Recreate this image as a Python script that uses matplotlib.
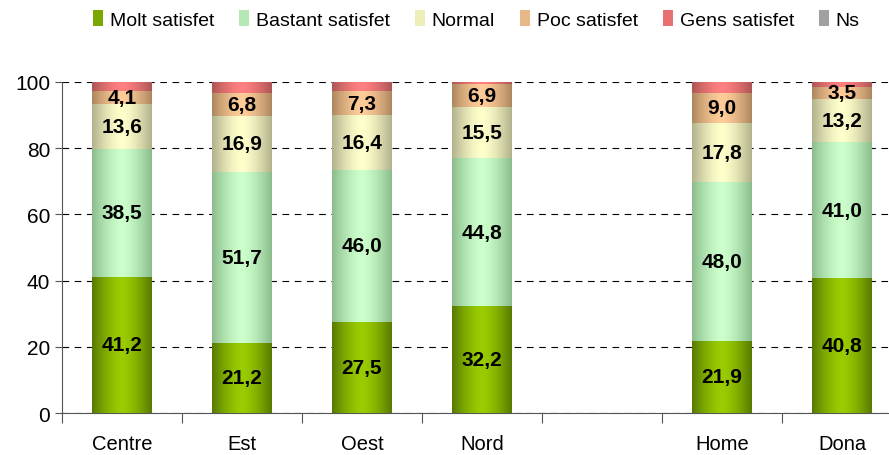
import numpy as np
import matplotlib
matplotlib.use("Agg")
import matplotlib.pyplot as plt
from matplotlib.colors import to_rgb
from matplotlib.patches import Patch

plt.rcParams['font.family'] = ['Liberation Sans', 'DejaVu Sans']

categories = ["Centre", "Est", "Oest", "Nord", "", "Home", "Dona"]
series = ["Molt satisfet", "Bastant satisfet", "Normal", "Poc satisfet", "Gens satisfet", "Ns"]
molt = [41.2, 21.2, 27.5, 32.2, None, 21.9, 40.8]
bastant = [38.5, 51.7, 46.0, 44.8, None, 48.0, 41.0]
normal = [13.6, 16.9, 16.4, 15.5, None, 17.8, 13.2]
poc = [4.1, 6.8, 7.3, 6.9, None, 9.0, 3.5]
gens = [2.6, 3.4, 2.8, 0.6, None, 3.3, 1.5]
ns = [0.0, 0.0, 0.0, 0.0, None, 0.0, 0.0]
values = [molt, bastant, normal, poc, gens, ns]
show_label = [True, True, True, True, False, False]

# colour at bar centre / colour at bar edges
centre_col = ["#9acd00", "#ccffcc", "#ffffcc", "#ffcc99", "#ff8080", "#c0c0c0"]
edge_col = ["#587a00", "#8cbc8c", "#b2b28c", "#ad875f", "#ad5555", "#808080"]
legend_col = ["#7aa800", "#b5e8b5", "#eeeebb", "#e8b888", "#e87070", "#a0a0a0"]


def gradient(c_mid, c_edge, n=64):
    t = np.linspace(-1, 1, n)
    w = np.clip(np.abs(t) ** 1.5, 0, 1)[:, None]
    a = np.array(to_rgb(c_mid))
    b = np.array(to_rgb(c_edge))
    return (a * (1 - w) + b * w)[None, :, :]


fig = plt.figure(figsize=(8.89, 4.56), dpi=100)
ax = fig.add_axes([62 / 889, 1 - 414 / 456, 840 / 889, 331 / 456])

width = 0.5
x = np.arange(len(categories))
for i in range(len(categories)):
    if molt[i] is None:
        continue
    bottom = 0.0
    for s in range(len(series)):
        v = values[s][i]
        if v > 0:
            img = gradient(centre_col[s], edge_col[s])
            ax.imshow(img, extent=(x[i] - width / 2, x[i] + width / 2, bottom, bottom + v),
                      aspect="auto", interpolation="bilinear", zorder=3)
            if show_label[s]:
                ax.text(x[i], bottom + v / 2, f"{v:.1f}".replace(".", ","),
                        ha="center", va="center", fontsize=15, fontweight="bold", zorder=4)
        bottom += v

ax.set_xlim(-0.5, len(categories) - 0.5)
ax.set_ylim(0, 100)
ax.set_yticks([0, 20, 40, 60, 80, 100])
ax.yaxis.grid(True, linestyle=(0, (6, 5)), color="black", linewidth=0.8)
ax.set_axisbelow(True)
ax.set_xticks(np.arange(len(categories) + 1) - 0.5)
ax.set_xticklabels([])
ax.set_xticks(x, minor=True)
ax.set_xticklabels(categories, minor=True, fontsize=14.5)
ax.tick_params(axis="x", which="major", length=7, direction="out", color="#555555")
ax.tick_params(axis="x", which="minor", length=0, pad=15)
ax.tick_params(axis="y", length=5, direction="out", labelsize=15, color="#555555")
for side in ["top", "right"]:
    ax.spines[side].set_visible(False)
ax.spines["left"].set_color("#555555")
ax.spines["bottom"].set_color("#555555")

handles = [Patch(facecolor=legend_col[s], edgecolor="none") for s in range(len(series))]
fig.legend(handles, series, loc="center", bbox_to_anchor=(0.536, 0.955), ncol=6,
           frameon=False, fontsize=14, handlelength=0.5, handleheight=0.9,
           handletextpad=0.35, columnspacing=1.3)

fig.savefig("out.png", dpi=100)
